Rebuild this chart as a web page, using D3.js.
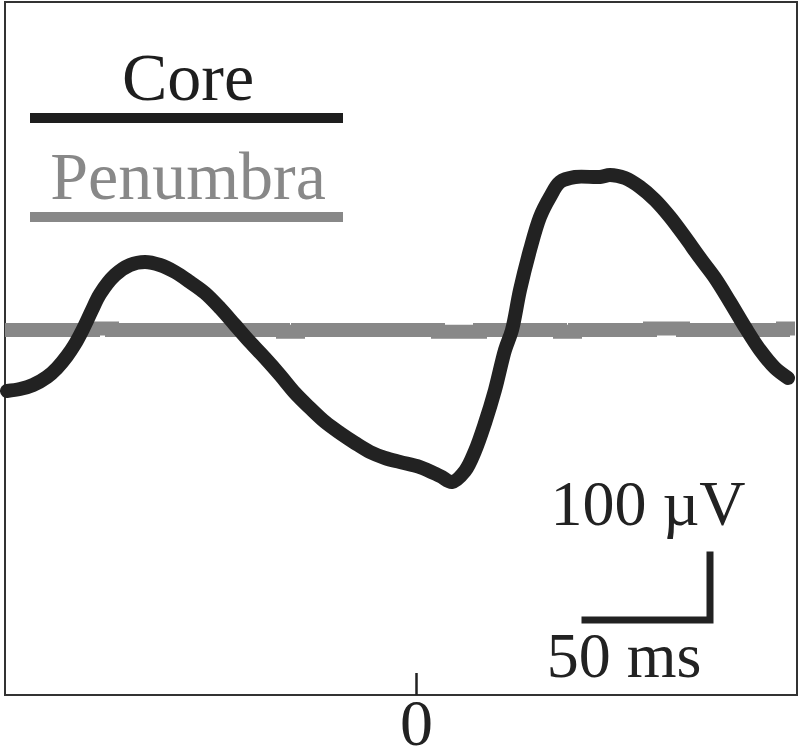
<!DOCTYPE html>
<html><head><meta charset="utf-8">
<script src="https://cdn.jsdelivr.net/npm/d3@7"></script>
<style>html,body{margin:0;padding:0;background:#fff;overflow:hidden}</style>
</head><body>
<svg id="c" width="802" height="750"></svg>
<script>
// Core trace: time (ms) and amplitude (µV)
const coreTime = [-163.6,-158.4,-153.2,-147.6,-143.6,-139.6,-136.4,-133.2,-129.6,-126.4,-120.4,-114.4,-108.4,-102.4,-96.4,-90.4,-84.4,-78.4,-72.4,-66.4,-60.4,-54.4,-48.4,-42.4,-36.4,-30.4,-24.4,-18.4,-12.4,-6.4,1.6,9.6,14.4,19.6,23.6,27.6,31.6,35.6,38.4,41.6,45.6,49.6,53.6,57.6,63.6,73.6,77.6,83.6,89.6,95.6,101.6,107.6,113.6,119.6,125.6,131.6,137.6,143.6,148.8];
const coreUV = [-93.8,-90.8,-84.6,-72.3,-58.5,-40.0,-21.5,1.5,30.8,55.4,84.6,100.0,104.6,100.0,89.2,73.8,56.9,33.8,7.7,-18.5,-43.1,-69.2,-96.9,-120.0,-141.5,-158.5,-173.8,-187.7,-196.9,-203.1,-210.8,-224.6,-233.8,-216.9,-186.2,-143.1,-92.3,-30.8,0.0,61.5,123.1,173.8,204.6,227.7,235.4,235.4,238.5,233.8,220.0,200.0,173.8,143.1,110.8,80.0,43.1,4.6,-30.8,-58.5,-73.8];
// Penumbra trace (nearly flat)
const penTime = [-164.4,-129.2,-121.6,-53.2,-47.2,8.8,25.6,57.6,63.6,93.6,106.8,146.8,151.6];
const penUV = [0,2.5,0,-2.5,0,-2.5,0,-2.5,0,2.5,0,2.5,2.5];
// legend and labels
const seriesNames = ["Core","Penumbra"];
const xTicks = [0];
const scaleBarMs = 50, scaleBarUV = 100;
const scaleBarOrigin = [67.6, -446]; // ms, µV (left end of horizontal bar)
const scaleLabels = ["100 \u00B5V","50 ms"];

const svg = d3.select("#c");
const font = "'Liberation Serif','Times New Roman',serif";
const x = d3.scaleLinear().domain([-164.4,152.4]).range([5,797]);
const y = d3.scaleLinear().domain([-561.5,504.6]).range([695,2]);

// frame
svg.append("rect").attr("x",5).attr("y",2).attr("width",792).attr("height",693)
  .attr("fill","none").attr("stroke","#333").attr("stroke-width",2);

// axis
const ax = svg.append("g").attr("transform","translate(0,695)")
  .call(d3.axisBottom(x).tickValues(xTicks).tickFormat(d3.format("d")).tickSizeInner(-22).tickSizeOuter(0).tickPadding(3));
ax.select(".domain").remove();
ax.selectAll(".tick line").attr("stroke","#222").attr("stroke-width",2.5);
ax.selectAll(".tick text").attr("fill","#222").style("font-family",font).style("font-size","66px");

// penumbra
svg.append("path").datum(penTime.map((t,i)=>[t,penUV[i]]))
  .attr("d",d3.line().x(d=>x(d[0])).y(d=>y(d[1])).curve(d3.curveStepAfter)).attr("fill","none")
  .attr("stroke","#888").attr("stroke-width",14);
// core
svg.append("path").datum(coreTime.map((t,i)=>[t,coreUV[i]]))
  .attr("d",d3.line().x(d=>x(d[0])).y(d=>y(d[1])).curve(d3.curveCatmullRom.alpha(0.5)))
  .attr("fill","none").attr("stroke","#222").attr("stroke-width",14)
  .attr("stroke-linecap","round").attr("stroke-linejoin","round");

// legend
const legColors = ["#1e1e1e","#888"];
const legY = [118,217];
seriesNames.forEach((n,i)=>{
  svg.append("text").attr("x",188).attr("y",legY[i]-18).attr("text-anchor","middle")
    .style("font-family",font).style("font-size","68px").attr("fill",legColors[i]).text(n);
  svg.append("line").attr("x1",30).attr("x2",343).attr("y1",legY[i]).attr("y2",legY[i])
    .attr("stroke",legColors[i]).attr("stroke-width",10);
});

// scale bar
const sx0 = x(scaleBarOrigin[0]), sx1 = x(scaleBarOrigin[0]+scaleBarMs);
const sy0 = y(scaleBarOrigin[1]), sy1 = y(scaleBarOrigin[1]+scaleBarUV);
svg.append("path").attr("d",`M${sx0},${sy0}H${sx1}V${sy1}`).attr("fill","none")
  .attr("stroke","#222").attr("stroke-width",7).attr("stroke-linecap","square");
svg.append("text").attr("x",648).attr("y",525).attr("text-anchor","middle")
  .style("font-family",font).style("font-size","64px").attr("fill","#222").text(scaleLabels[0]);
svg.append("text").attr("x",624).attr("y",677).attr("text-anchor","middle")
  .style("font-family",font).style("font-size","64px").attr("fill","#222").text(scaleLabels[1]);
</script>
</body></html>
